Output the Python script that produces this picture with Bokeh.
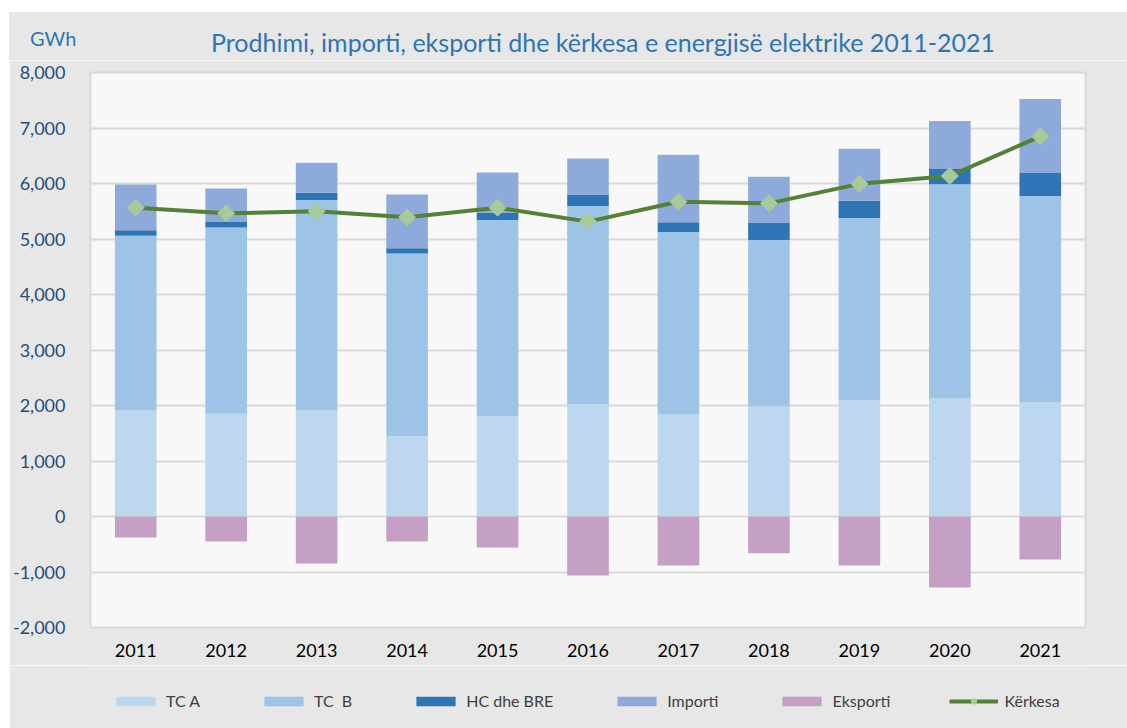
from bokeh.plotting import figure
from bokeh.models import (ColumnDataSource, Legend, LegendItem, NumeralTickFormatter,
                          FixedTicker, Range1d, Div, Spacer)
from bokeh.layouts import column, row
from bokeh.embed import file_html
from bokeh.resources import INLINE
import numpy as np

years = ["2011", "2012", "2013", "2014", "2015", "2016", "2017", "2018", "2019", "2020", "2021"]
tc_a = [1910, 1850, 1910, 1450, 1810, 2025, 1845, 1980, 2095, 2125, 2060]
tc_b = [3147, 3356, 3791, 3289, 3534, 3570, 3283, 3003, 3283, 3863, 3713]
hc_bre = [101, 101, 132, 96, 132, 209, 173, 316, 311, 275, 418]
importi = [824, 603, 543, 967, 722, 645, 1218, 824, 937, 865, 1331]
eksporti = [-378, -450, -846, -450, -558, -1062, -882, -660, -882, -1278, -774]
kerkesa = [5565, 5463, 5499, 5391, 5564, 5313, 5672, 5642, 5994, 6137, 6848]
y_ticks = [-2000, -1000, 0, 1000, 2000, 3000, 4000, 5000, 6000, 7000, 8000]
series_labels = ["TC A", "TC  B", "HC dhe BRE", "Importi", "Eksporti", "Kërkesa"]

title_text = "Prodhimi, importi, eksporti dhe kërkesa e energjisë elektrike 2011-2021"
unit_text = "GWh"

FONT = "Lato"
BG = "#e7e7e7"
BAR_COLORS = ["#bdd7ee", "#9dc3e6", "#2e75b6", "#8eaadb"]
EXP_COLOR = "#c5a0c5"
LINE_COLOR = "#548235"
MARK_COLOR = "#a9c99a"
W = 1118
stackers = ["tc_a", "tc_b", "hc_bre", "importi"]

source = ColumnDataSource(dict(years=years, tc_a=tc_a, tc_b=tc_b, hc_bre=hc_bre,
                               importi=importi, eksporti=eksporti, kerkesa=kerkesa))

# ---- header (unit + title) as HTML text
header = Div(
    text=(
        f'<div style="position:relative;width:{W}px;height:48px;background:{BG};">'
        f'<span style="position:absolute;left:21px;top:16px;font-family:{FONT};font-size:20px;'
        f'line-height:20px;color:#2e75b6;white-space:nowrap;">{unit_text}</span>'
        f'<div style="position:absolute;left:194px;top:18px;width:800px;text-align:center;'
        f'font-family:{FONT};font-size:25px;line-height:25px;color:#2e75b6;white-space:nowrap;">'
        f'{title_text}</div></div>'
    ),
    width=W, height=48, margin=0,
)

# ---- main chart
p = figure(x_range=years, y_range=Range1d(-2000, 8000), width=W, height=605,
           output_backend="svg", toolbar_location=None,
           min_border_left=79, min_border_right=42, min_border_top=12, min_border_bottom=38)
p.background_fill_color = "#f8f8f8"
p.border_fill_color = BG
p.outline_line_color = "#d9d9d9"
p.outline_line_width = 2

p.vbar_stack(stackers, x="years", width=0.46, color=BAR_COLORS, source=source, line_color=None)
p.vbar(x="years", top="eksporti", bottom=0, width=0.46, color=EXP_COLOR,
       line_color=None, source=source)
p.line(x="years", y="kerkesa", line_color=LINE_COLOR, line_width=4, source=source)
p.scatter(x="years", y="kerkesa", marker="square", size=12, angle=np.pi / 4,
          fill_color=MARK_COLOR, line_color=MARK_COLOR, source=source)

p.yaxis.ticker = FixedTicker(ticks=y_ticks)
p.yaxis.formatter = NumeralTickFormatter(format="0,0")
for ax in (p.xaxis[0], p.yaxis[0]):
    ax.axis_line_color = None
    ax.major_tick_line_color = None
    ax.minor_tick_line_color = None
    ax.major_label_text_font = FONT
    ax.major_label_text_font_size = "18px"
p.yaxis.major_label_text_color = "#1f4e79"
p.yaxis.major_label_standoff = 19
p.xaxis.major_label_text_color = "#000000"
p.xaxis.major_label_standoff = 10
p.xgrid.grid_line_color = None
p.ygrid.grid_line_color = "#d9d9d9"
p.ygrid.grid_line_width = 2

# ---- legend strip: same series drawn far out of view, only their legend is visible
leg = figure(x_range=years, y_range=Range1d(90000, 91000), width=W, height=63,
             x_axis_location=None, y_axis_location=None,
             output_backend="svg", toolbar_location=None,
             min_border_left=79, min_border_right=42, min_border_top=0, min_border_bottom=0)
leg.background_fill_color = BG
leg.border_fill_color = BG
leg.outline_line_color = None
leg.grid.visible = False
rs = leg.vbar_stack(stackers, x="years", width=0.46, color=BAR_COLORS, source=source,
                    line_color=None)
re_ = leg.vbar(x="years", top="eksporti", bottom=0, width=0.46, color=EXP_COLOR,
               line_color=None, source=source)
lr = leg.line(x="years", y="kerkesa", line_color=LINE_COLOR, line_width=4, source=source)
mr = leg.scatter(x="years", y="kerkesa", marker="square", size=8, angle=np.pi / 4,
                 fill_color=MARK_COLOR, line_color=MARK_COLOR, source=source)
items = [LegendItem(label=series_labels[i], renderers=[rs[i]]) for i in range(4)]
items.append(LegendItem(label=series_labels[4], renderers=[re_]))
items.append(LegendItem(label=series_labels[5], renderers=[lr, mr]))
legend = Legend(items=items, orientation="horizontal", glyph_width=49, glyph_height=12,
                spacing=59, label_standoff=6, label_text_font=FONT, label_text_font_size="16px",
                label_text_color="#404040", background_fill_alpha=0, border_line_alpha=0,
                margin=0, padding=0, location=(21, 18))
leg.add_layout(legend)

root = row(Spacer(width=9, height=716), column(Spacer(width=W, height=12), header, p, leg))
open("out.html", "w").write(file_html(root, INLINE))
